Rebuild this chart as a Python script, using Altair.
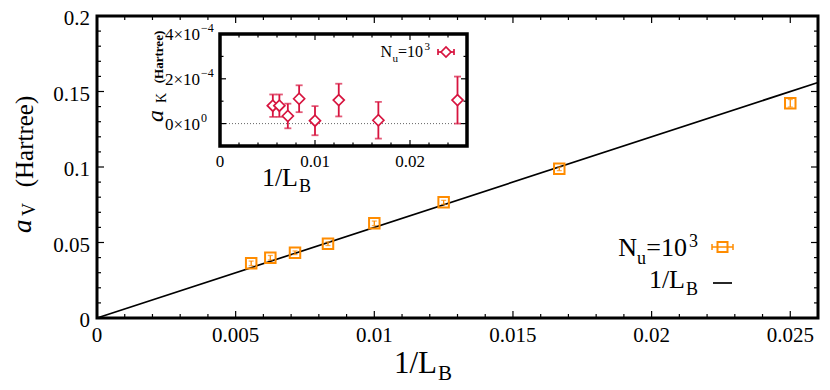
import altair as alt
import pandas as pd

FONT = "Liberation Serif"
ORANGE = "#ff8c00"
CRIMSON = "#d7143f"

# ---------------- data ----------------
inv_LB = [0.00556, 0.00625, 0.00714, 0.00833, 0.01, 0.0125, 0.01667, 0.025]
a_V = [0.0362, 0.0399, 0.0432, 0.0492, 0.0627, 0.0766, 0.0988, 0.1422]
a_V_err = [0.0015, 0.0015, 0.0012, 0.0012, 0.0015, 0.0013, 0.0012, 0.0025]

a_K = [0.80e-4, 0.80e-4, 0.34e-4, 1.11e-4, 0.13e-4, 1.05e-4, 0.15e-4, 1.05e-4]
a_K_err = [0.50e-4, 0.50e-4, 0.55e-4, 0.60e-4, 0.65e-4, 0.73e-4, 0.82e-4, 1.05e-4]

fit_x = [0.0, 0.026]
fit_y = [0.0, 0.156]

main_x_major = [0.0, 0.005, 0.01, 0.015, 0.02, 0.025]
main_x_labels = ["0", "0.005", "0.01", "0.015", "0.02", "0.025"]
main_x_minor = [0.001, 0.002, 0.003, 0.004, 0.006, 0.007, 0.008, 0.009,
                0.011, 0.012, 0.013, 0.014, 0.016, 0.017, 0.018, 0.019,
                0.021, 0.022, 0.023, 0.024]
main_y_major = [0.0, 0.05, 0.1, 0.15, 0.2]
main_y_labels = ["0", "0.05", "0.1", "0.15", "0.2"]
main_y_minor = [0.01, 0.02, 0.03, 0.04, 0.06, 0.07, 0.08, 0.09,
                0.11, 0.12, 0.13, 0.14, 0.16, 0.17, 0.18, 0.19]

ins_x_major = [0.0, 0.01, 0.02]
ins_x_labels = ["0", "0.01", "0.02"]
ins_x_minor = [0.002, 0.004, 0.006, 0.008, 0.012, 0.014, 0.016, 0.018, 0.022, 0.024]
ins_y_major = [0.0, 2e-4, 4e-4]
ins_y_base = ["0×10", "2×10", "4×10"]
ins_y_sup = ["0", "−4", "−4"]
ins_y_minor = [-1e-4, 1e-4, 3e-4]

# ---------------- geometry ----------------
W, H = 721, 302
XS = alt.Scale(domain=[0, 0.026], nice=False, zero=False)
YS = alt.Scale(domain=[0, 0.2], nice=False, zero=False)
IX = alt.Scale(domain=[0, 0.026], range=[123, 370], nice=False, zero=False)
IY = alt.Scale(domain=[-1e-4, 4e-4], range=[130, 18], nice=False, zero=False)

main_df = pd.DataFrame({"x": inv_LB, "y": a_V,
                        "lo": [v - e for v, e in zip(a_V, a_V_err)],
                        "hi": [v + e for v, e in zip(a_V, a_V_err)]})
ins_df = pd.DataFrame({"x": inv_LB, "y": a_K,
                       "lo": [v - e for v, e in zip(a_K, a_K_err)],
                       "hi": [v + e for v, e in zip(a_K, a_K_err)]})
fit_df = pd.DataFrame({"x": fit_x, "y": fit_y})
one = pd.DataFrame({"a": [0]})


def txt(s, x, y, size, align="left", angle=0, style="normal", weight="normal",
        baseline="alphabetic"):
    return alt.Chart(one).mark_text(
        text=s, font=FONT, fontSize=size, align=align, baseline=baseline,
        angle=angle, fontStyle=style, fontWeight=weight, color="black"
    ).encode(x=alt.value(x), y=alt.value(y))


def xq(sc, f="x"):
    return alt.X(f"{f}:Q", scale=sc, axis=None)


def yq(sc, f="y"):
    return alt.Y(f"{f}:Q", scale=sc, axis=None)


def vticks_x(vals, sc, y0, y1, w=1.2):
    return alt.Chart(pd.DataFrame({"v": vals})).mark_rule(color="black", strokeWidth=w).encode(
        x=xq(sc, "v"), y=alt.value(y0), y2=alt.value(y1))


def hticks_y(vals, sc, x0, x1, w=1.2):
    return alt.Chart(pd.DataFrame({"v": vals})).mark_rule(color="black", strokeWidth=w).encode(
        y=yq(sc, "v"), x=alt.value(x0), x2=alt.value(x1))


# ---------------- main panel ----------------
main_layers = [
    alt.Chart(fit_df).mark_line(color="black", strokeWidth=1.7).encode(x=xq(XS), y=yq(YS)),
    alt.Chart(main_df).mark_rule(color=ORANGE, strokeWidth=1.3).encode(
        x=xq(XS), y=yq(YS, "lo"), y2="hi:Q"),
    alt.Chart(main_df).mark_tick(orient="horizontal", color=ORANGE, size=5, thickness=1.3).encode(
        x=xq(XS), y=yq(YS, "lo")),
    alt.Chart(main_df).mark_tick(orient="horizontal", color=ORANGE, size=5, thickness=1.3).encode(
        x=xq(XS), y=yq(YS, "hi")),
    alt.Chart(main_df).mark_point(shape="square", filled=False, size=110, strokeWidth=2,
                                  color=ORANGE, opacity=1).encode(x=xq(XS), y=yq(YS)),
    # ticks (inward) on four sides
    vticks_x(main_x_major, XS, H, H - 7),
    vticks_x(main_x_minor, XS, H, H - 4),
    vticks_x(main_x_major, XS, 0, 7),
    vticks_x(main_x_minor, XS, 0, 4),
    hticks_y(main_y_major, YS, 0, 7),
    hticks_y(main_y_minor, YS, 0, 4),
    hticks_y(main_y_major, YS, W, W - 7),
    hticks_y(main_y_minor, YS, W, W - 4),
    # tick labels
    alt.Chart(pd.DataFrame({"v": main_x_major, "t": main_x_labels})).mark_text(
        font=FONT, fontSize=21, align="center", baseline="alphabetic", color="black").encode(
        x=xq(XS, "v"), y=alt.value(326), text="t:N"),
    alt.Chart(pd.DataFrame({"v": main_y_major, "t": main_y_labels})).mark_text(
        font=FONT, fontSize=21, align="right", baseline="alphabetic", dy=9, color="black").encode(
        y=yq(YS, "v"), x=alt.value(-7), text="t:N"),
    # axis titles
    txt("1/L", 340, 357, 31, align="right"),
    txt("B", 341, 364, 21),
    txt("(Hartree)", -64, 125.5, 25, align="center", angle=270),
    txt("a", -66, 217, 27, angle=270, style="italic"),
    txt("V", -62, 200, 18, angle=270),
    # legend
    txt("N", 540, 240, 26, align="right"),
    txt("u", 549, 248, 18, align="right"),
    txt("=10", 590, 240, 26, align="right"),
    txt("3", 601, 231, 18, align="right"),
    txt("1/L", 588, 272, 26, align="right"),
    txt("B", 589, 279, 18),
    alt.Chart(one).mark_rule(color=ORANGE, strokeWidth=1.5).encode(
        x=alt.value(615), x2=alt.value(636), y=alt.value(231)),
    alt.Chart(one).mark_rule(color=ORANGE, strokeWidth=1.5).encode(
        x=alt.value(615), y=alt.value(228), y2=alt.value(234)),
    alt.Chart(one).mark_rule(color=ORANGE, strokeWidth=1.5).encode(
        x=alt.value(636), y=alt.value(228), y2=alt.value(234)),
    alt.Chart(one).mark_point(shape="square", filled=False, size=100, strokeWidth=2,
                              color=ORANGE, opacity=1).encode(x=alt.value(625.5), y=alt.value(231)),
    alt.Chart(one).mark_rule(color="black", strokeWidth=1.7).encode(
        x=alt.value(616), x2=alt.value(635), y=alt.value(267)),
]
main = alt.layer(*main_layers)

# ---------------- inset panel ----------------
frame_df = pd.DataFrame({"x": [0.0], "x2": [0.026], "y": [-1e-4], "y2": [4e-4]})
zero_df = pd.DataFrame({"x": [0.0], "x2": [0.026], "y": [0.0]})

ins_layers = [
    alt.Chart(frame_df).mark_rect(fill="white", stroke="black", strokeWidth=3.5).encode(
        x=xq(IX), x2="x2:Q", y=yq(IY), y2="y2:Q"),
    alt.Chart(zero_df).mark_rule(color="#666666", strokeWidth=1, strokeDash=[1, 2]).encode(
        x=xq(IX), x2="x2:Q", y=yq(IY)),
    alt.Chart(ins_df).mark_rule(color=CRIMSON, strokeWidth=1.8).encode(
        x=xq(IX), y=yq(IY, "lo"), y2="hi:Q"),
    alt.Chart(ins_df).mark_tick(orient="horizontal", color=CRIMSON, size=7, thickness=1.8).encode(
        x=xq(IX), y=yq(IY, "lo")),
    alt.Chart(ins_df).mark_tick(orient="horizontal", color=CRIMSON, size=7, thickness=1.8).encode(
        x=xq(IX), y=yq(IY, "hi")),
    alt.Chart(ins_df).mark_point(shape="diamond", filled=True, fill="white", size=121,
                                 strokeWidth=1.7, stroke=CRIMSON, opacity=1).encode(
        x=xq(IX), y=yq(IY)),
    vticks_x(ins_x_major, IX, 130, 124),
    vticks_x(ins_x_minor, IX, 130, 126.5),
    vticks_x(ins_x_major, IX, 18, 24),
    vticks_x(ins_x_minor, IX, 18, 21.5),
    hticks_y(ins_y_major, IY, 123, 129),
    hticks_y(ins_y_minor, IY, 123, 126.5),
    hticks_y(ins_y_major, IY, 370, 364),
    hticks_y(ins_y_minor, IY, 370, 366.5),
    alt.Chart(pd.DataFrame({"v": ins_x_major, "t": ins_x_labels})).mark_text(
        font=FONT, fontSize=17, align="center", baseline="alphabetic", color="black").encode(
        x=xq(IX, "v"), y=alt.value(151), text="t:N"),
    alt.Chart(pd.DataFrame({"v": ins_y_major, "t": ins_y_base})).mark_text(
        font=FONT, fontSize=17, align="right", baseline="alphabetic", dy=6, color="black").encode(
        y=yq(IY, "v"), x=alt.value(103), text="t:N"),
    alt.Chart(pd.DataFrame({"v": ins_y_major, "t": ins_y_sup})).mark_text(
        font=FONT, fontSize=12, align="left", baseline="alphabetic", dy=-2, color="black").encode(
        y=yq(IY, "v"), x=alt.value(104), text="t:N"),
    # inset titles
    txt("1/L", 201, 170, 26, align="right"),
    txt("B", 202, 176, 18),
    txt("(Hartree)", 66, 41, 13, align="center", angle=270, weight="bold"),
    txt("a", 66, 106, 24, angle=270, style="italic"),
    txt("K", 69, 87, 14, angle=270),
    # inset legend
    txt("N", 295, 41, 16, align="right"),
    txt("u", 301, 46, 11, align="right"),
    txt("=10", 326, 41, 16, align="right"),
    txt("3", 333, 34, 11, align="right"),
    alt.Chart(one).mark_rule(color=CRIMSON, strokeWidth=1.7).encode(
        x=alt.value(341), x2=alt.value(357), y=alt.value(36)),
    alt.Chart(one).mark_rule(color=CRIMSON, strokeWidth=1.7).encode(
        x=alt.value(341), y=alt.value(33), y2=alt.value(39)),
    alt.Chart(one).mark_rule(color=CRIMSON, strokeWidth=1.7).encode(
        x=alt.value(357), y=alt.value(33), y2=alt.value(39)),
    alt.Chart(one).mark_point(shape="diamond", filled=True, fill="white", size=100,
                              strokeWidth=1.7, stroke=CRIMSON, opacity=1).encode(
        x=alt.value(349), y=alt.value(36)),
]
inset = alt.layer(*ins_layers)

chart = alt.layer(main, inset).resolve_scale(x="independent", y="independent").properties(
    width=W, height=H,
    autosize=alt.AutoSizeParams(type="none"),
    padding={"left": 89, "top": 8, "right": 4, "bottom": 68},
    background="white",
).configure_view(stroke="black", strokeWidth=3)

chart.save("out.html", embed_options={"renderer": "svg", "actions": False})
